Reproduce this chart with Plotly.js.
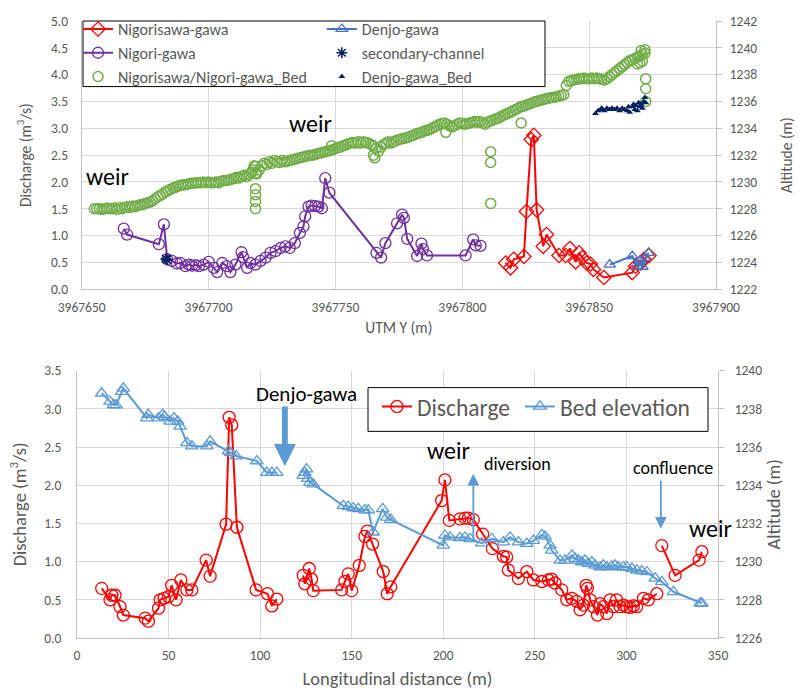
<!DOCTYPE html>
<html><head><meta charset="utf-8">
<script src="https://cdn.plot.ly/plotly-3.0.1.min.js"></script>
<style>html,body{margin:0;padding:0;background:#fff}#c{width:798px;height:690px}</style>
</head><body><div id="c"></div>
<script>
// ---------- Top chart (UTM Y) ----------
const nsX = [3967817.1,3967819,3967820.3,3967824.3,3967825.3,3967827.2,3967828.2,3967829.3,3967831.9,3967833.2,3967838.1,3967840.7,3967842.4,3967844.7,3967846,3967847.3,3967849,3967850.5,3967851.7,3967855.8,3967867,3967868.3,3967870.3,3967871.6,3967873.6];
const nsQ = [0.49,0.40,0.56,0.61,1.45,2.79,2.87,1.48,0.80,1.02,0.63,0.63,0.76,0.51,0.68,0.59,0.49,0.47,0.37,0.22,0.31,0.43,0.49,0.56,0.63];
const djX = [3967858.1,3967867,3967869,3967870,3967871,3967872,3967873.4];
const djQ = [0.46,0.62,0.43,0.53,0.42,0.58,0.68];
const ngX = [3967666.6,3967667.9,3967680.4,3967682.4,3967683.7,3967685.6,3967687.5,3967688.9,3967690.9,3967692.2,3967693.5,3967695,3967696.2,3967698.1,3967700.1,3967702.1,3967703.4,3967705.4,3967707.3,3967708.6,3967710.6,3967713,3967713.6,3967715.2,3967716.5,3967718.5,3967720.5,3967722.5,3967724.4,3967726.4,3967728.4,3967730.3,3967732,3967734,3967736,3967737.4,3967738.1,3967739.4,3967740.6,3967742,3967743.3,3967744.7,3967746,3967747.6,3967766.2,3967768,3967769.7,3967774.3,3967776.3,3967777,3967778.3,3967782.2,3967783.9,3967784.5,3967786.1,3967801.3,3967804.3,3967805.3,3967807.2];
const ngQ = [1.13,1.02,0.84,1.21,0.56,0.53,0.48,0.49,0.43,0.46,0.44,0.45,0.43,0.46,0.51,0.40,0.32,0.49,0.43,0.32,0.46,0.69,0.60,0.40,0.49,0.46,0.53,0.59,0.68,0.71,0.77,0.80,0.77,0.86,1.05,1.17,1.36,1.54,1.56,1.55,1.54,1.51,2.07,1.80,0.68,0.59,0.86,1.23,1.39,1.33,0.94,0.62,0.85,0.75,0.63,0.63,0.93,0.82,0.81];
const scX = [3967683.2,3967683.6];
const scQ = [0.57,0.55];
const bedX = [3967655,3967656,3967657,3967658,3967659,3967660,3967661,3967662,3967663,3967664,3967665,3967666,3967667,3967668,3967669,3967670,3967671,3967672,3967673,3967674,3967675,3967676,3967677,3967678,3967679,3967680,3967681,3967682,3967683,3967684,3967685,3967686,3967687,3967688,3967689,3967690,3967691,3967692,3967693,3967694,3967695,3967696,3967697,3967698,3967699,3967700,3967701,3967702,3967703,3967704,3967705,3967706,3967707,3967708,3967709,3967710,3967711,3967712,3967713,3967714,3967715,3967716,3967717,3967717.5,3967718,3967718.5,3967718.5,3967718.5,3967718.5,3967718.5,3967718.5,3967719,3967720,3967721,3967722,3967723,3967724,3967725,3967726,3967727,3967728,3967729,3967730,3967731,3967732,3967733,3967734,3967735,3967736,3967737,3967738,3967739,3967740,3967741,3967742,3967743,3967744,3967745,3967746,3967747,3967748,3967748.5,3967749,3967750,3967751,3967752,3967753,3967754,3967755,3967756,3967757,3967758,3967759,3967760,3967761,3967762,3967763,3967764,3967765,3967765,3967765.5,3967766,3967767,3967768,3967769,3967770,3967771,3967772,3967773,3967774,3967775,3967776,3967777,3967778,3967779,3967780,3967781,3967782,3967783,3967784,3967785,3967786,3967787,3967788,3967789,3967790,3967791,3967792,3967793,3967793.5,3967794,3967795,3967796,3967797,3967798,3967799,3967800,3967801,3967802,3967803,3967804,3967805,3967806,3967807,3967808,3967809,3967810,3967811,3967811.2,3967811.2,3967811.2,3967812,3967813,3967814,3967815,3967816,3967817,3967818,3967819,3967820,3967821,3967822,3967823,3967823.2,3967824,3967825,3967826,3967827,3967828,3967829,3967830,3967831,3967832,3967833,3967834,3967835,3967836,3967837,3967838,3967839,3967840,3967841,3967842,3967843,3967844,3967845,3967846,3967847,3967848,3967849,3967850,3967851,3967852,3967853,3967854,3967855,3967856,3967857,3967858,3967859,3967860,3967861,3967862,3967863,3967864,3967865,3967866,3967867,3967868,3967869,3967869,3967870,3967870,3967870.5,3967871,3967871,3967872,3967872,3967872.3,3967872.3,3967872.3];
const bedZ = [1228.0,1228.0,1228.0,1227.95,1228.0,1228.05,1228.0,1228.0,1228.05,1227.95,1228.1,1228.0,1228.1,1228.15,1228.1,1228.2,1228.15,1228.25,1228.3,1228.3,1228.4,1228.45,1228.5,1228.6,1228.75,1228.9,1229.0,1229.1,1229.25,1229.35,1229.45,1229.55,1229.6,1229.7,1229.75,1229.8,1229.8,1229.85,1229.9,1229.9,1229.95,1229.95,1229.95,1230.0,1229.95,1230.0,1229.95,1229.95,1230.0,1229.95,1230.05,1230.1,1230.1,1230.15,1230.2,1230.25,1230.35,1230.3,1230.4,1230.5,1230.4,1230.55,1230.7,1230.9,1231.2,1230.65,1229.5,1229.05,1228.55,1228.0,1231.15,1230.6,1230.9,1231.2,1231.4,1231.3,1231.5,1231.4,1231.6,1231.5,1231.45,1231.6,1231.5,1231.55,1231.6,1231.65,1231.7,1231.75,1231.8,1231.85,1231.9,1231.95,1232.0,1232.0,1232.05,1232.1,1232.15,1232.2,1232.25,1232.3,1232.35,1232.7,1232.4,1232.5,1232.55,1232.6,1232.7,1232.75,1232.85,1232.9,1232.95,1232.9,1233.0,1232.9,1233.0,1232.95,1232.9,1232.8,1232.7,1232.0,1231.8,1232.5,1232.3,1232.6,1232.8,1232.9,1233.0,1232.9,1233.0,1233.1,1233.15,1233.2,1233.25,1233.3,1233.35,1233.45,1233.5,1233.6,1233.65,1233.7,1233.8,1233.85,1233.9,1234.0,1234.1,1234.2,1234.3,1234.35,1234.4,1233.7,1234.3,1234.2,1234.1,1234.2,1234.3,1234.4,1234.35,1234.3,1234.35,1234.4,1234.45,1234.5,1234.45,1234.5,1234.4,1234.3,1234.45,1234.55,1232.25,1231.45,1228.4,1234.6,1234.7,1234.75,1234.85,1234.95,1235.05,1235.1,1235.2,1235.3,1235.4,1235.5,1235.6,1234.4,1235.65,1235.7,1235.8,1235.85,1235.95,1236.0,1236.05,1236.1,1236.15,1236.2,1236.25,1236.3,1236.3,1236.35,1236.4,1236.45,1236.5,1237.2,1237.5,1237.55,1237.6,1237.65,1237.7,1237.7,1237.75,1237.7,1237.7,1237.75,1237.7,1237.75,1237.7,1237.65,1237.6,1237.7,1237.85,1238.0,1238.15,1238.3,1238.45,1238.6,1238.75,1238.9,1239.05,1239.1,1239.2,1239.3,1238.8,1239.4,1238.9,1239.8,1239.5,1239.0,1239.6,1239.85,1237.7,1236.95,1236.0];
const dbX = [3967852.5,3967853.5,3967854.5,3967855,3967856,3967857,3967858,3967859,3967860,3967861,3967862,3967863,3967864,3967865,3967865.5,3967866,3967867,3967867.5,3967868,3967868.5,3967869,3967869.5,3967870,3967870.5,3967871,3967871.5,3967872,3967872.3];
const dbZ = [1235.1,1235.3,1235.4,1235.5,1235.3,1235.5,1235.4,1235.5,1235.4,1235.5,1235.3,1235.5,1235.4,1235.3,1235.6,1235.2,1235.6,1235.8,1235.4,1235.7,1235.3,1235.9,1235.6,1235.8,1235.5,1236.0,1236.3,1235.9];

// ---------- Bottom chart (longitudinal distance) ----------
const dX = [13.5,18,19,20.8,23.5,25.3,37.2,39,44.5,45.4,47.5,49.9,51.7,54.1,56.7,60,62.7,70.5,72.7,81.4,83.1,84.5,87.3,97.8,104,106.4,109.1,null,123.5,124.4,126.8,128.1,129,144.5,146.3,148.1,150,154.1,157.2,158.5,161.4,167.2,169.4,171.3,199.1,200.9,203.3,209.1,211.9,213.7,216.4,221.5,226.8,232.8,234.6,235.5,241,245.6,249.2,253.8,257.4,259.2,261,264.7,267.4,270.2,272.9,274.7,276.5,278,278.7,280.2,282,284.2,285.6,287.4,289.3,291.1,292.9,294.6,296.6,298.4,300.2,302,303.8,305.6,309.3,312,316.6,null,319.3,326.6,339.7,341.2];
const dQ = [0.65,0.50,0.56,0.56,0.41,0.30,0.26,0.22,0.39,0.50,0.52,0.54,0.69,0.50,0.76,0.63,0.63,1.02,0.81,1.49,2.89,2.79,1.45,0.63,0.58,0.42,0.51,null,0.82,0.71,0.91,0.77,0.62,0.63,0.74,0.84,0.62,0.95,1.33,1.40,1.23,0.87,0.58,0.67,1.80,2.07,1.54,1.56,1.57,1.57,1.55,1.36,1.17,1.07,1.06,0.89,0.78,0.87,0.76,0.74,0.76,0.77,0.72,0.63,0.50,0.52,0.48,0.37,0.43,0.69,0.65,0.50,0.41,0.30,0.45,0.41,0.32,0.50,0.41,0.50,0.41,0.43,0.41,0.40,0.42,0.41,0.52,0.50,0.58,null,1.21,0.82,1.02,1.13];
const bX = [13.5,18,19.9,21.3,24.4,25.3,38.1,38.9,44.5,46.8,47.8,50.8,53,55,56.3,60,62.7,70.9,72.7,82.7,84,86.9,98.2,103.7,106.4,109.1,null,123.5,124.4,125.3,126,127.2,129,145.4,148.1,150.8,153.6,157.2,159,161.7,166.9,169.1,171.3,200,200.9,203.7,209.1,211.9,214.6,221,226.5,232.8,236.5,241,245.6,249.2,253.8,255.6,258.3,259.2,263.8,266.5,270.2,272,273.8,275.6,277.4,279.2,281.1,282.9,285.6,287.4,289.3,292,293.8,295.6,298.4,300.2,303,305.7,308.4,311.2,315.7,319.3,325.7,340.3,341.2];
const bAlt = [1238.82,1238.39,1238.21,1238.2,1238.9,1239.08,1237.52,1237.7,1237.52,1237.7,1237.6,1237.35,1237.52,1237.35,1237.09,1236.22,1236.05,1236.05,1236.3,1235.79,1235.7,1235.53,1235.27,1234.66,1234.66,1234.66,null,1234.5,1234.66,1234.85,1234.35,1234.14,1234.06,1232.93,1232.88,1232.81,1232.76,1232.7,1232.7,1231.54,1232.76,1232.32,1232.2,1230.85,1231.37,1231.28,1231.25,1231.28,1231.2,1230.97,1231.2,1231.02,1231.28,1231.02,1230.94,1231.1,1231.4,1231.32,1230.85,1230.59,1230.07,1230.07,1230.33,1230.16,1230.07,1229.98,1230.07,1229.9,1229.98,1229.81,1229.72,1229.81,1229.72,1229.76,1229.81,1229.72,1229.72,1229.72,1229.64,1229.55,1229.51,1229.46,1229.12,1228.94,1228.42,1227.82,1227.82];

const GRID = '#D9D9D9', AX = '#BFBFBF', TXT = '#595959';
const FONT = 'Calibri, Carlito, "Open Sans", "Liberation Sans", sans-serif';

const traces = [
  {x: nsX, y: nsQ, name: 'Nigorisawa-gawa', type: 'scatter', mode: 'lines+markers', xaxis: 'x', yaxis: 'y', legend: 'legend',
   line: {color: '#FF0000', width: 2}, marker: {symbol: 'diamond-open', size: 11, color: '#FF0000', line: {width: 1.3}}},
  {x: ngX, y: ngQ, name: 'Nigori-gawa', type: 'scatter', mode: 'lines+markers', xaxis: 'x', yaxis: 'y', legend: 'legend',
   line: {color: '#7030A0', width: 2}, marker: {symbol: 'circle-open', size: 11, color: '#7030A0', line: {width: 1.3}}},
  {x: bedX, y: bedZ, name: 'Nigorisawa/Nigori-gawa_Bed', type: 'scatter', mode: 'markers', xaxis: 'x', yaxis: 'y2', legend: 'legend',
   marker: {symbol: 'circle-open', size: 10, color: '#70AD47', line: {width: 1.5}}},
  {x: djX, y: djQ, name: 'Denjo-gawa', type: 'scatter', mode: 'lines+markers', xaxis: 'x', yaxis: 'y', legend: 'legend3',
   line: {color: '#4472C4', width: 2}, marker: {symbol: 'triangle-up-open', size: 10, color: '#4472C4', line: {width: 1.3}}},
  {x: scX, y: scQ, name: 'secondary-channel', type: 'scatter', mode: 'markers', xaxis: 'x', yaxis: 'y', legend: 'legend3',
   marker: {symbol: 'asterisk-open', size: 9, color: '#002060', line: {width: 1.5, color: '#002060'}}},
  {x: dbX, y: dbZ, name: 'Denjo-gawa_Bed', type: 'scatter', mode: 'markers', xaxis: 'x', yaxis: 'y2', legend: 'legend3',
   marker: {symbol: 'triangle-up', size: 6, color: '#002060'}},
  {x: dX, y: dQ, name: 'Discharge', type: 'scatter', mode: 'lines+markers', xaxis: 'x2', yaxis: 'y3', legend: 'legend2',
   connectgaps: false, line: {color: '#FF0000', width: 2}, marker: {symbol: 'circle-open', size: 12, color: '#FF0000', line: {width: 1.3}}},
  {x: bX, y: bAlt, name: 'Bed elevation', type: 'scatter', mode: 'lines+markers', xaxis: 'x2', yaxis: 'y4', legend: 'legend4',
   connectgaps: false, line: {color: '#5B9BD5', width: 2}, marker: {symbol: 'triangle-up-open', size: 11, color: '#5B9BD5', line: {width: 1.3}}}
];

const tickFont = {family: FONT, size: 13.5, color: TXT};
const titleFont = {family: FONT, size: 15.5, color: TXT};
const titleFont2 = {family: FONT, size: 18.5, color: TXT};
const legTop = {family: FONT, size: 16, color: TXT};
const legBot = {family: FONT, size: 23.5, color: TXT};
const clear = 'rgba(0,0,0,0)';

const layout = {
  width: 798, height: 690,
  margin: {l: 77, r: 80, t: 17, b: 52},
  paper_bgcolor: '#fff', plot_bgcolor: '#fff',
  font: {family: FONT, color: TXT},
  showlegend: true,
  xaxis: {domain: [0.0073, 0.9969], anchor: 'y', range: [3967650, 3967900], dtick: 50, tick0: 3967650,
    tickformat: 'd', showgrid: true, gridcolor: GRID, showline: true, linecolor: AX, zeroline: false,
    ticks: '', ticklabelstandoff: 6, tickfont: tickFont, title: {text: 'UTM Y (m)', font: titleFont, standoff: 6}},
  yaxis: {domain: [0.5652, 1], anchor: 'x', range: [0, 5], dtick: 0.5, tickformat: '.1f', showgrid: true, gridcolor: GRID,
    showline: true, linecolor: AX, zeroline: false, ticks: '', ticklabelstandoff: 10, tickfont: tickFont,
    title: {text: 'Discharge (m<sup>3</sup>/s)', font: titleFont, standoff: 15}},
  yaxis2: {overlaying: 'y', anchor: 'x', side: 'right', range: [1222, 1242], dtick: 2, showgrid: false,
    showline: true, linecolor: AX, zeroline: false, ticks: 'outside', ticklen: 5, tickcolor: AX, ticklabelstandoff: 5, tickfont: tickFont,
    title: {text: 'Altitude (m)', font: titleFont, standoff: 24}},
  xaxis2: {domain: [0, 1], anchor: 'y3', range: [0, 350], dtick: 50, showgrid: true, gridcolor: GRID,
    showline: true, linecolor: AX, zeroline: false, ticks: '', ticklabelstandoff: 5, tickfont: tickFont,
    title: {text: 'Longitudinal distance (m)', font: titleFont2, standoff: 8}},
  yaxis3: {domain: [0, 0.4332], anchor: 'x2', range: [0, 3.5], dtick: 0.5, tickformat: '.1f', showgrid: true, gridcolor: GRID,
    showline: true, linecolor: AX, zeroline: false, ticks: '', ticklabelstandoff: 12, tickfont: tickFont,
    title: {text: 'Discharge (m<sup>3</sup>/s)', font: titleFont2, standoff: 12}},
  yaxis4: {overlaying: 'y3', anchor: 'x2', side: 'right', range: [1226, 1240], dtick: 2, showgrid: false,
    showline: true, linecolor: AX, zeroline: false, ticks: 'outside', ticklen: 5, tickcolor: AX, ticklabelstandoff: 8, tickfont: tickFont,
    title: {text: 'Altitude (m)', font: titleFont2, standoff: 3}},
  legend: {orientation: 'v', x: 0.0016, y: 1.0145, xanchor: 'left', yanchor: 'top', bgcolor: clear,
    borderwidth: 0, traceorder: 'normal', font: legTop, tracegroupgap: 0},
  legend3: {orientation: 'v', x: 0.382, y: 1.0145, xanchor: 'left', yanchor: 'top', bgcolor: clear,
    borderwidth: 0, traceorder: 'normal', font: legTop, tracegroupgap: 0},
  legend2: {orientation: 'h', x: 0.468, y: 0.4106, xanchor: 'left', yanchor: 'top', bgcolor: clear,
    borderwidth: 0, font: legBot},
  legend4: {orientation: 'h', x: 0.691, y: 0.4106, xanchor: 'left', yanchor: 'top', bgcolor: clear,
    borderwidth: 0, font: legBot},
  annotations: [
    {xref: 'x', yref: 'y', x: 3967660, y: 2.1, text: 'weir', showarrow: false, font: {family: FONT, size: 24, color: '#000'}},
    {xref: 'x', yref: 'y', x: 3967740, y: 3.09, text: 'weir', showarrow: false, font: {family: FONT, size: 24, color: '#000'}},
    {xref: 'x2', yref: 'y3', x: 125.5, y: 3.2, text: 'Denjo-gawa', showarrow: false, font: {family: FONT, size: 21, color: '#000'}},
    {xref: 'x2', yref: 'y3', x: 202.6, y: 2.45, text: 'weir', showarrow: false, font: {family: FONT, size: 24, color: '#000'}},
    {xref: 'x2', yref: 'y3', x: 240.5, y: 2.28, text: 'diversion', showarrow: false, font: {family: FONT, size: 18, color: '#000'}},
    {xref: 'x2', yref: 'y3', x: 325.4, y: 2.23, text: 'confluence', showarrow: false, font: {family: FONT, size: 18, color: '#000'}},
    {xref: 'x2', yref: 'y3', x: 345.7, y: 1.43, text: 'weir', showarrow: false, font: {family: FONT, size: 24, color: '#000'}},
    {xref: 'x2', yref: 'y3', x: 216.4, y: 2.15, axref: 'x2', ayref: 'y3', ax: 216.4, ay: 1.24, text: '', showarrow: true,
     arrowhead: 2, arrowsize: 1.3, arrowwidth: 1.8, arrowcolor: '#5B9BD5'},
    {xref: 'x2', yref: 'y3', x: 318.8, y: 1.43, axref: 'x2', ayref: 'y3', ax: 318.8, ay: 2.08, text: '', showarrow: true,
     arrowhead: 2, arrowsize: 1.3, arrowwidth: 1.8, arrowcolor: '#5B9BD5'}
  ],
  shapes: [
    {type: 'path', xref: 'x2', yref: 'y3', fillcolor: '#5B9BD5', line: {width: 0},
     path: 'M 111.9 3.03 L 115.1 3.03 L 115.1 2.54 L 119.5 2.54 L 113.5 2.25 L 107.5 2.54 L 111.9 2.54 Z'},
    {type: 'rect', xref: 'paper', yref: 'paper', x0: 0.0094, x1: 0.7301, y0: 0.8937, y1: 1.0, layer: 'above',
     fillcolor: '#fff', line: {color: '#000', width: 1}},
    {type: 'rect', xref: 'paper', yref: 'paper', x0: 0.454, x1: 0.9844, y0: 0.3349, y1: 0.4058, layer: 'above',
     fillcolor: '#fff', line: {color: '#000', width: 1}}
  ]
};

Plotly.newPlot('c', traces, layout, {displayModeBar: false, staticPlot: true});
</script>
</body></html>
